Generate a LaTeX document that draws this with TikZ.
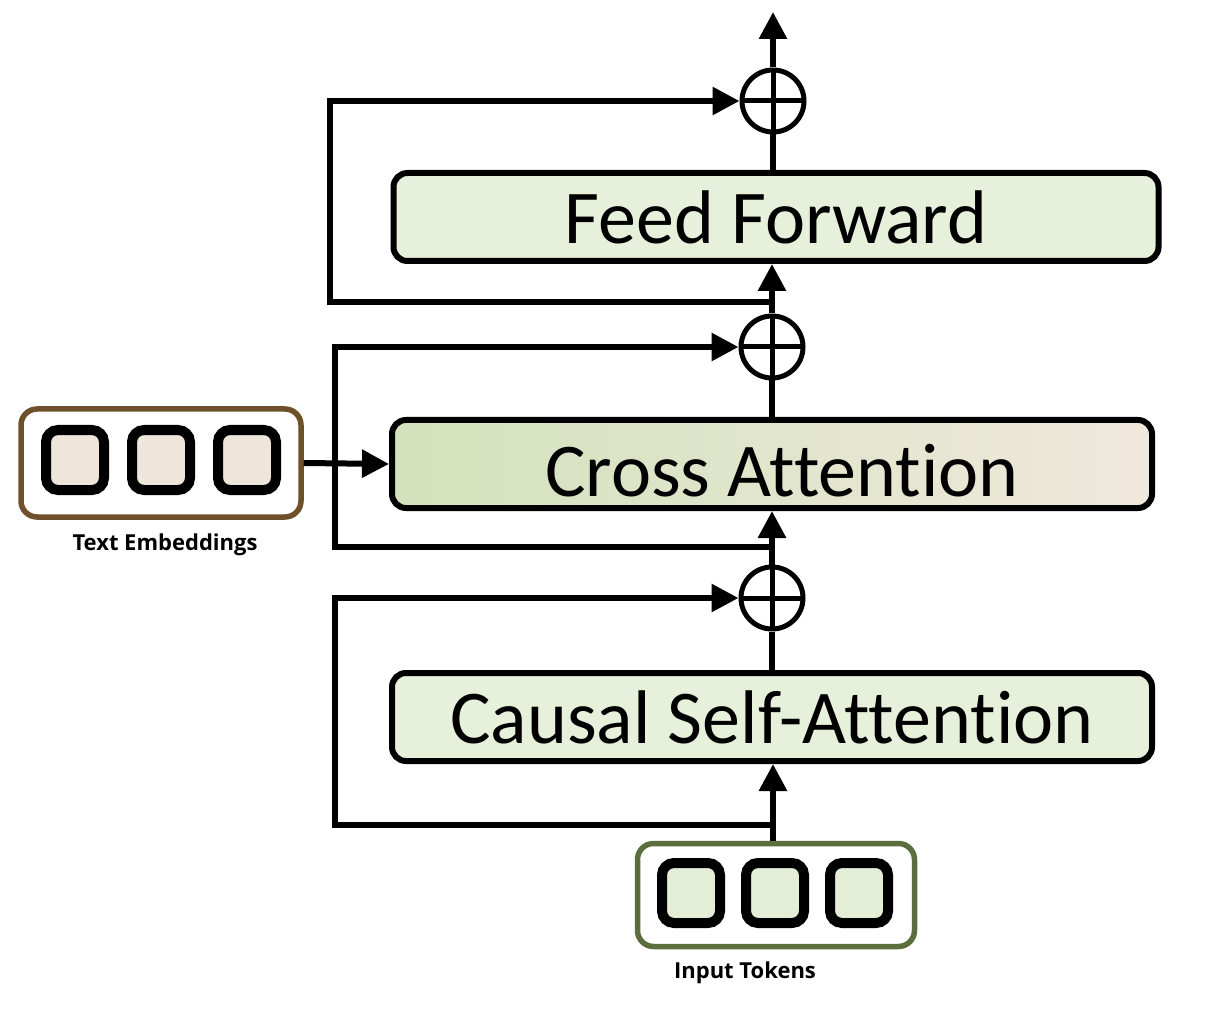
\documentclass[tikz,border=0pt]{standalone}
\usepackage{fontspec}
\setmainfont{Carlito}[Ligatures={NoCommon}]
\newfontfamily\labfont{Open Sans}
\usetikzlibrary{arrows.meta}
\definecolor{ffill}{RGB}{230,240,218}
\definecolor{cagreen}{RGB}{210,226,188}
\definecolor{cabeige}{RGB}{240,232,220}
\definecolor{tefill}{RGB}{238,230,218}
\definecolor{tebrd}{RGB}{110,80,42}
\definecolor{tkbrd}{RGB}{90,110,62}
\definecolor{tkfill}{RGB}{228,238,215}
\tikzset{
  x=1pt,y=-1pt,
  line/.style={line width=6pt},
  arr/.style={line width=6pt,-{Triangle[length=27pt,width=27pt]}},
  block/.style={draw,line width=6pt,rounded corners=14pt,minimum height=88pt,inner sep=0pt,
     font=\fontsize{76}{84}\selectfont},
  plus/.style={draw,circle,line width=5pt,minimum size=62pt,inner sep=0pt,
     path picture={\draw[line width=5pt] (path picture bounding box.west) -- (path picture bounding box.east)
       (path picture bounding box.north) -- (path picture bounding box.south);}},
  holder/.style={draw,line width=5.5pt,rounded corners=16pt,fill=white,inner sep=0pt},
  cell/.style={draw,line width=10pt,rounded corners=12pt,minimum width=58pt,minimum height=60pt,inner sep=0pt},
  lab/.style={font=\labfont\bfseries\fontsize{22}{26}\selectfont}
}
\begin{document}
\begin{tikzpicture}
\useasboundingbox (0,0) rectangle (1211,1024);
% blocks
\node[block,fill=ffill,minimum width=765pt] (ff) at (776,217) {Feed Forward};
\node[block,left color=cagreen,right color=cabeige,minimum width=760pt] (ca) at (772,464) {\raisebox{-7pt}[\height][\depth]{\hspace*{20pt}Cross Attention}};
\node[block,fill=ffill,minimum width=760pt] (csa) at (772,717) {Causal Self-Attention};
% plus nodes
\node[plus] (p1) at (772,598) {};
\node[plus] (p2) at (772,347) {};
\node[plus] (p3) at (773,101) {};
% text embeddings
\node[holder,draw=tebrd,minimum width=280pt,minimum height=108pt] (te) at (161,463) {};
\node[cell,fill=tefill] (te1) at (75,460) {};
\node[cell,fill=tefill] (te2) at (161,460) {};
\node[cell,fill=tefill] (te3) at (247,460) {};
\node[lab] (tel) at (165,545) {Text Embeddings};
% input tokens
\node[holder,draw=tkbrd,minimum width=277pt,minimum height=103pt] (tk) at (776,895) {};
\node[cell,fill=tkfill] (tk1) at (691,893) {};
\node[cell,fill=tkfill] (tk2) at (775,893) {};
\node[cell,fill=tkfill] (tk3) at (859,893) {};
\node[lab] (tkl) at (745,973) {Input Tokens};
% coordinates
\coordinate (j1) at (773,825);
\coordinate (r1) at (335,825);
\coordinate (j2) at (772,547);
\coordinate (r2) at (335,547);
\coordinate (j3) at (772,302);
\coordinate (r3) at (330,302);
\coordinate (out) at (773,12);
% connectors
\draw[arr] (tk.north -| j1) -- (csa.south -| j1);
\draw[line] (csa.north -| p1) -- (p1.south);
\draw[arr] (j1) -- (r1) |- (p1.west);
\draw[arr] (p1.north) -- (ca.south -| p1);
\draw[arr] (j2) -- (r2) |- (p2.west);
\draw[line] (ca.north -| p2) -- (p2.south);
\draw[arr] (p2.north) -- (ff.south -| p2);
\draw[arr] (j3) -- (r3) |- (p3.west);
\draw[line] (ff.north -| p3) -- (p3.south);
\draw[arr] (p3.north) -- (out);
\draw[arr] (te.east) -- (ca.west);
\end{tikzpicture}
\end{document}
